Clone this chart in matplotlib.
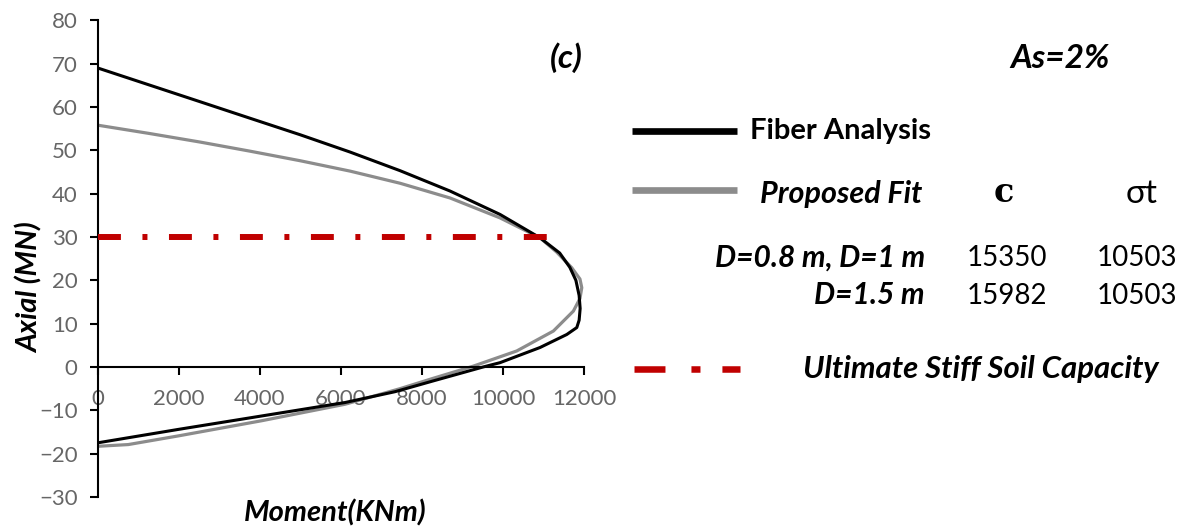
import matplotlib
matplotlib.use("Agg")
import matplotlib.pyplot as plt
from matplotlib.lines import Line2D

W, H = 1198, 528

# Fiber analysis interaction curve (Moment kNm, Axial MN)
fiber_M = [0, 1265, 2530, 3759, 4993, 6227, 7461, 8695, 9929, 10916, 11400,
           11650, 11800, 11880, 11905, 11880, 11822, 11575, 11245, 10916, 9929,
           9510, 8283, 7337, 6103, 4047, 1990, 0]
fiber_N = [69.0, 65.1, 61.2, 57.4, 53.6, 49.6, 45.3, 40.6, 35.2, 29.8, 26.3,
           23.0, 20.0, 16.5, 13.5, 10.8, 9.1, 7.5, 6.0, 4.5, 1.0,
           0.0, -3.2, -5.7, -8.2, -11.3, -14.4, -17.5]

# Proposed fit curve
fit_M = [0, 1265, 2530, 3759, 4993, 6227, 7461, 8695, 9929, 10916, 11327,
         11698, 11900, 11945, 11900, 11738, 11245, 10341, 9270, 8283, 7461,
         6103, 4047, 1990, 755, 0]
fit_N = [55.8, 53.9, 51.9, 49.8, 47.6, 45.2, 42.4, 39.0, 34.4, 29.8, 26.5,
         22.9, 20.3, 18.3, 15.8, 12.9, 8.3, 3.7, 0.2, -2.6, -5.0,
         -8.6, -12.4, -15.9, -17.9, -18.3]

# Ultimate stiff soil capacity
soil_M = [0, 11550]
soil_N = [30, 30]

x_ticks = [0, 2000, 4000, 6000, 8000, 10000, 12000]
y_ticks = [-30, -20, -10, 0, 10, 20, 30, 40, 50, 60, 70, 80]

table_rows = ["D=0.8 m, D=1 m", "D=1.5 m"]
c_vals = ["15350", "15982"]
st_vals = ["10503", "10503"]

plt.rcParams['font.family'] = ['Lato', 'DejaVu Sans']
plt.rcParams['lines.scale_dashes'] = False

RED = '#C00000'
GRAY = '#8C8C8C'
TICKC = '#666666'

fig = plt.figure(figsize=(W / 100, H / 100), dpi=100)
ax = fig.add_axes([97.7 / W, 1 - 497 / H, (584 - 97.7) / W, (497 - 20.3) / H])

ax.plot(fiber_M, fiber_N, color='black', lw=2.2, solid_joinstyle='round', zorder=3)
ax.plot(fit_M, fit_N, color=GRAY, lw=2.3, solid_joinstyle='round', zorder=2)
ax.plot(soil_M, soil_N, color=RED, lw=4.3, dashes=(16.5, 15.5, 3.6, 15.5),
        dash_capstyle='butt', zorder=4)

ax.set_xlim(0, 12000)
ax.set_ylim(-30, 80)
ax.set_xticks(x_ticks)
ax.set_yticks(y_ticks)
ax.spines['top'].set_visible(False)
ax.spines['right'].set_visible(False)
ax.spines['bottom'].set_position(('data', 0))
for s in ['left', 'bottom']:
    ax.spines[s].set_linewidth(1.5)
ax.tick_params(axis='both', direction='out', length=5.5, width=1.5,
               labelsize=16, labelcolor=TICKC)
ax.tick_params(axis='x', pad=10)
ax.tick_params(axis='y', pad=9)


def ftext(x, y, s, va='baseline', **kw):
    fig.text(x / W, 1 - y / H, s, va=va, **kw)


ftext(30, 288, 'Axial (MN)', va='center', rotation=90, ha='center', fontsize=21,
      fontweight='bold', fontstyle='italic')
ftext(335, 513, 'Moment(KNm)', va='center', ha='center', fontsize=21,
      fontweight='bold', fontstyle='italic')

ftext(566, 68, '(c)', ha='center', fontsize=24, fontweight='bold', fontstyle='italic')
ftext(1060, 68, 'As=2%', ha='center', fontsize=24, fontweight='bold', fontstyle='italic')

# legend keys
fig.add_artist(Line2D([632 / W, 737 / W], [1 - 131 / H] * 2, color='black', lw=4.8,
                      solid_capstyle='butt'))
fig.add_artist(Line2D([632 / W, 737 / W], [1 - 190 / H] * 2, color=GRAY, lw=4.8,
                      solid_capstyle='butt'))
fig.add_artist(Line2D([634 / W, 740 / W], [1 - 369 / H] * 2, color=RED, lw=4.7,
                      dashes=(22.3, 18.7, 6.5, 15.8), dash_capstyle='butt'))

ftext(750, 139, 'Fiber Analysis', ha='left', fontsize=21, fontweight='bold')
ftext(922, 203, 'Proposed Fit', ha='right', fontsize=22, fontweight='bold',
      fontstyle='italic')
ftext(1004, 202, 'c', ha='center', fontsize=24, fontweight='bold',
      family=['DejaVu Serif'])
ftext(1142, 203, 'σt', ha='center', fontsize=24, family=['Lato', 'DejaVu Sans'])

row_y = [266.5, 304]
for lab, cv, sv, yy in zip(table_rows, c_vals, st_vals, row_y):
    ftext(925, yy, lab, ha='right', fontsize=21.5, fontweight='bold', fontstyle='italic')
    ftext(1007, yy, cv, ha='center', fontsize=20)
    ftext(1137, yy, sv, ha='center', fontsize=20)

ftext(803, 378, 'Ultimate Stiff Soil Capacity', ha='left', fontsize=22.4,
      fontweight='bold', fontstyle='italic')

fig.savefig('out.png', dpi=100)
